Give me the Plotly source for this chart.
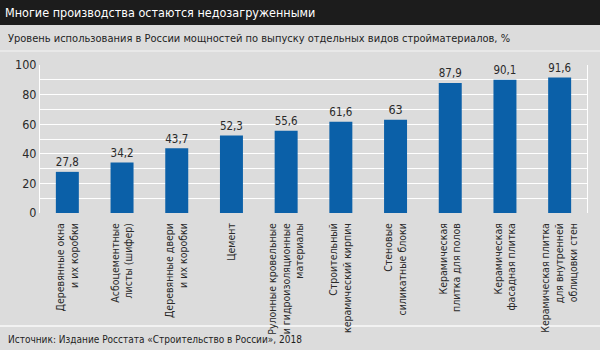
import plotly.graph_objects as go

categories = [
    "Деревянные окна<br>и их коробки",
    "Асбоцементные<br>листы (шифер)",
    "Деревянные двери<br>и их коробки",
    "Цемент",
    "Рулонные кровельные<br>и гидроизоляционные<br>материалы",
    "Строительный<br>керамический кирпич",
    "Стеновые<br>силикатные блоки",
    "Керамическая<br>плитка для полов",
    "Керамическая<br>фасадная плитка",
    "Керамическая плитка<br>для внутренней<br>облицовки стен",
]
values = [27.8, 34.2, 43.7, 52.3, 55.6, 61.6, 63.0, 87.9, 90.1, 91.6]
value_labels = ["27,8", "34,2", "43,7", "52,3", "55,6", "61,6", "63", "87,9", "90,1", "91,6"]
y_ticks = [0, 20, 40, 60, 80, 100]

title_text = "Многие производства остаются недозагруженными"
subtitle_text = "Уровень использования в России мощностей по выпуску отдельных видов стройматериалов, %"
source_text = "Источник: Издание Росстата «Строительство в России», 2018"

FONT = "DejaVu Sans Condensed, Liberation Sans Narrow, sans-serif"
W, H = 600, 350
ML, MR, MT, MB = 40, 13, 65, 137
PW, PH = W - ML - MR, H - MT - MB


def px_y(y):
    return (H - MB - y) / PH


def px_x(x):
    return (x - ML) / PW


fig = go.Figure()
fig.add_trace(go.Bar(
    x=categories,
    y=values,
    text=value_labels,
    textposition="outside",
    textfont=dict(size=12.5, color="#2a2a2a", family=FONT),
    marker=dict(color="#0b60a8", line=dict(width=0)),
    cliponaxis=False,
    hoverinfo="skip",
))

fig.update_layout(
    width=W, height=H,
    margin=dict(l=ML, r=MR, t=MT, b=MB),
    paper_bgcolor="#dcdcdc",
    plot_bgcolor="#dcdcdc",
    bargap=0.58,
    showlegend=False,
    font=dict(family=FONT, color="#2a2a2a"),
    title=dict(
        text=title_text, x=5 / W, xanchor="left", xref="container",
        y=1 - 12.5 / H, yref="container", yanchor="middle",
        font=dict(size=12.5, color="white", family=FONT),
    ),
    xaxis=dict(
        type="category",
        tickangle=-90,
        tickfont=dict(size=10.5, color="#2a2a2a", family=FONT),
        ticklabelstandoff=7,
        ticklabeloverflow="allow",
        automargin=False,
        showgrid=False, zeroline=False, showline=False,
        ticks="", ticklen=0,
    ),
    yaxis=dict(
        range=[0, 100],
        tickvals=y_ticks,
        tickfont=dict(size=12.5, color="#2a2a2a", family=FONT),
        showgrid=True, gridcolor="white", gridwidth=1,
        minor=dict(dtick=10, showgrid=True, gridcolor="white", gridwidth=1),
        zeroline=False,
        showline=True, linecolor="white", linewidth=1, mirror=True,
        ticks="", ticklen=0,
    ),
)

# header bar
fig.add_shape(type="rect", xref="paper", yref="paper",
              x0=px_x(-5), x1=px_x(W + 5), y0=px_y(25), y1=px_y(-5),
              fillcolor="#1c1c1c", line=dict(width=0), layer="below")
# subtitle separator & footer separator
fig.add_shape(type="line", xref="paper", yref="paper",
              x0=px_x(0), x1=px_x(W), y0=px_y(51), y1=px_y(51),
              line=dict(color="#ececec", width=1.5), layer="below")
fig.add_shape(type="line", xref="paper", yref="paper",
              x0=px_x(0), x1=px_x(W), y0=px_y(326), y1=px_y(326),
              line=dict(color="#f2f2f2", width=2), layer="below")

fig.add_annotation(text=subtitle_text, xref="paper", yref="paper",
                   x=px_x(6), y=px_y(38), xanchor="left", yanchor="middle",
                   showarrow=False, font=dict(size=11, color="#1e1e1e", family=FONT))
fig.add_annotation(text=source_text, xref="paper", yref="paper",
                   x=px_x(6), y=px_y(339), xanchor="left", yanchor="middle",
                   showarrow=False, font=dict(size=10, color="#1e1e1e", family=FONT))

fig.write_html("out.html")
